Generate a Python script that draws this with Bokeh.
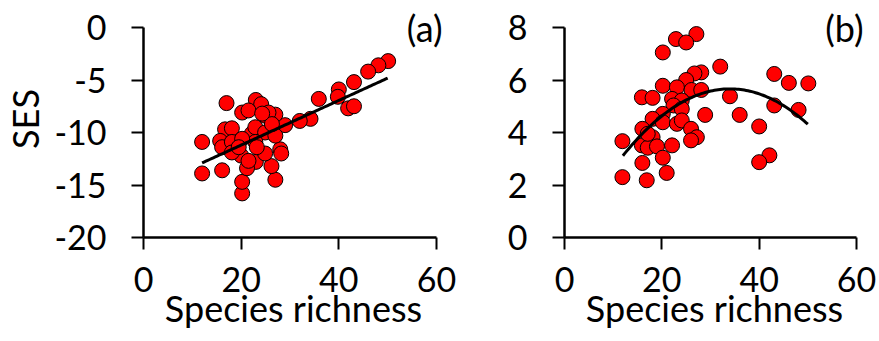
import numpy as np
from bokeh.plotting import figure
from bokeh.layouts import row
from bokeh.models import Range1d, FixedTicker, Label
from bokeh.embed import file_html
from bokeh.resources import INLINE

# ---------------- data ----------------
a_richness = [50.1, 48.1, 46.0, 43.1, 40.0, 39.8, 41.9, 43.1, 35.9, 34.2,
              32.0, 29.0, 17.0, 23.0, 24.1, 20.2, 21.5, 24.9, 27.0, 12.0,
              12.0, 16.1, 20.2, 20.2, 27.0, 26.2, 23.0, 21.2, 20.0, 28.0,
              28.2, 24.9, 16.7, 18.1, 15.7, 16.1, 18.1, 18.1, 22.2, 22.9,
              24.9, 27.0, 22.9, 23.2, 20.2, 19.5, 25.6, 26.3, 21.5, 24.3]
a_ses = [-3.2, -3.6, -4.2, -5.2, -5.9, -6.6, -7.7, -7.5, -6.8, -8.7,
         -8.9, -9.3, -7.2, -6.9, -7.3, -8.1, -7.9, -8.4, -8.3, -10.9,
         -13.9, -13.6, -15.8, -14.7, -14.5, -13.2, -12.8, -13.4, -12.2, -11.6,
         -12.0, -12.0, -9.7, -9.6, -10.8, -11.4, -10.9, -11.9, -10.1, -9.5,
         -10.0, -10.3, -10.9, -11.4, -10.6, -11.4, -8.1, -9.2, -12.7, -8.2]

b_richness = [27.1, 22.9, 25.0, 20.2, 32.0, 28.1, 26.7, 43.1, 46.1, 50.1,
              25.0, 20.2, 23.1, 26.1, 28.1, 15.9, 18.1, 22.1, 34.0, 24.1,
              22.4, 43.1, 48.1, 24.1, 20.2, 28.9, 36.0, 18.1, 20.2, 23.1,
              24.1, 40.0, 16.0, 26.0, 18.1, 11.9, 27.2, 26.0, 22.1, 15.9,
              17.1, 19.0, 20.2, 16.0, 42.1, 40.0, 21.0, 11.9, 16.9, 17.1]
b_ses = [7.75, 7.56, 7.43, 7.05, 6.51, 6.29, 6.25, 6.23, 5.89, 5.87,
         6.00, 5.78, 5.72, 5.62, 5.62, 5.34, 5.32, 5.28, 5.38, 5.22,
         5.03, 5.03, 4.86, 4.90, 4.71, 4.67, 4.67, 4.52, 4.39, 4.33,
         4.46, 4.23, 4.14, 4.14, 3.82, 3.67, 3.82, 3.70, 3.51, 3.51,
         3.42, 3.47, 3.04, 2.84, 3.13, 2.87, 2.46, 2.30, 2.18, 3.95]

fit_a_coef = [0.2126, -15.45]          # linear fit (panel a)
fit_b_coef = [-0.00526, 0.3577, -0.42]  # quadratic fit (panel b)
fit_span = [12, 50]

x_ticks = [0, 20, 40, 60]
x_tick_labels = ["0", "20", "40", "60"]
a_y_ticks = [-20, -15, -10, -5, 0]
a_y_tick_labels = ["-20", "-15", "-10", "-5", "0"]
b_y_ticks = [0, 2, 4, 6, 8]
b_y_tick_labels = ["0", "2", "4", "6", "8"]

FONT = "Lato"
TICK_FS = "34px"
LAB_FS = "36px"

FRAME_W = 300        # frame a little wider than the 0-60 axis, to hold the tag
TOP_PAD = 27         # px between canvas top and the last y tick
AXIS_H = 210         # px between first and last y tick


def style(p, xt, xl, yt, yl, ylabel):
    p.xaxis.ticker = FixedTicker(ticks=xt)
    p.yaxis.ticker = FixedTicker(ticks=yt)
    p.xaxis.major_label_overrides = dict(zip(xt, xl))
    p.yaxis.major_label_overrides = dict(zip(yt, yl))
    p.xaxis.bounds = (xt[0], xt[-1])
    p.yaxis.bounds = (yt[0], yt[-1])
    p.grid.visible = False
    p.outline_line_color = None
    p.background_fill_color = "white"
    p.border_fill_color = "white"
    for ax in (p.xaxis, p.yaxis):
        ax.axis_line_width = 2.5
        ax.axis_line_color = "black"
        ax.major_tick_line_width = 2
        ax.major_tick_line_color = "black"
        ax.major_tick_out = 12
        ax.major_tick_in = 0
        ax.minor_tick_line_color = None
        ax.major_label_text_font = FONT
        ax.major_label_text_font_size = TICK_FS
        ax.major_label_text_color = "black"
        ax.axis_label_text_font = FONT
        ax.axis_label_text_font_size = LAB_FS
        ax.axis_label_text_font_style = "normal"
        ax.axis_label_text_color = "black"
    p.xaxis.axis_label = "Species richness"
    p.xaxis.major_label_standoff = 17
    p.xaxis.axis_label_standoff = -9
    p.yaxis.major_label_standoff = 25
    p.yaxis.axis_label_standoff = 4
    if ylabel:
        p.yaxis.axis_label = ylabel


def make_panel(xs, ys, coef, yt, yl, tag, px_per_x, left_border, right_border):
    y_lo, y_hi = yt[0], yt[-1]
    unit = (y_hi - y_lo) / AXIS_H
    y_top = y_hi + TOP_PAD * unit
    x_top = FRAME_W / px_per_x
    p = figure(output_backend="svg", toolbar_location=None,
               frame_width=FRAME_W, frame_height=TOP_PAD + AXIS_H,
               min_border_left=left_border, min_border_top=0,
               min_border_right=right_border, min_border_bottom=104,
               x_range=Range1d(0, x_top), y_range=Range1d(y_lo, y_top))
    style(p, x_ticks, x_tick_labels, yt, yl, "SES" if tag == "(a)" else None)
    p.scatter(xs, ys, size=15, fill_color="#ff0000",
              line_color="black", line_width=1)
    xf = np.linspace(fit_span[0], fit_span[1], 100)
    p.line(xf, np.polyval(coef, xf), line_color="black", line_width=3)
    p.add_layout(Label(x=x_top, y=y_hi, x_offset=-1, text=tag,
                       text_font=FONT, text_font_size=LAB_FS,
                       text_align="right", text_baseline="middle",
                       text_color="black"))
    return p


pa = make_panel(a_richness, a_ses, fit_a_coef, a_y_ticks, a_y_tick_labels,
                "(a)", 293 / 60.0, 137, 13)
# panel a: 137 + 300 + 13 = 450 px wide -> panel b canvas starts at page x 458
pb = make_panel(b_richness, b_ses, fit_b_coef, b_y_ticks, b_y_tick_labels,
                "(b)", 292 / 60.0, 566 - 458, 12)

layout = row(pa, pb)
open("out.html", "w").write(file_html(layout, INLINE))
